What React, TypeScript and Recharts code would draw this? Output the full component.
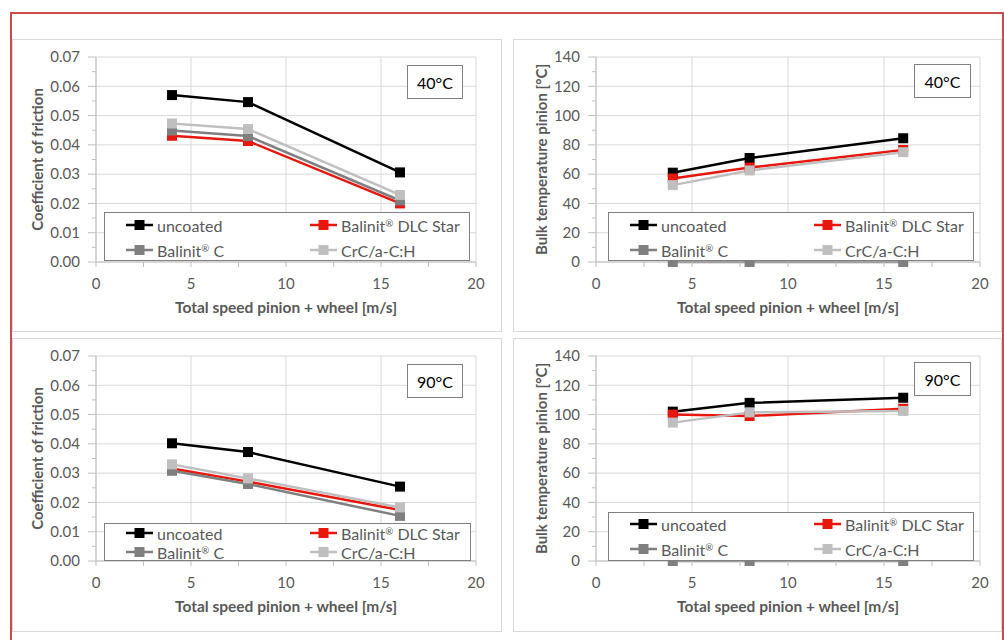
import React from 'react';
import { LineChart, Line, XAxis, YAxis, CartesianGrid } from 'recharts';

// total speed pinion + wheel [m/s]
const speeds = [4, 8, 16];

const seriesNames = ['uncoated', 'Balinit® DLC Star', 'Balinit® C', 'CrC/a-C:H'];
const seriesColors = ['#000000', '#e8170d', '#7f7f7f', '#bfbfbf'];

// coefficient of friction, 40°C
const cof40Uncoated = [0.057, 0.0546, 0.0306];
const cof40DlcStar = [0.0431, 0.0413, 0.02];
const cof40BalinitC = [0.0449, 0.043, 0.021];
const cof40Crc = [0.0473, 0.0454, 0.0229];

// bulk temperature pinion, 40°C
const temp40Uncoated = [61, 71, 84.5];
const temp40DlcStar = [57, 64.5, 76.5];
const temp40BalinitC = [0, 0, 0];
const temp40Crc = [52.5, 62.5, 75];

// coefficient of friction, 90°C
const cof90Uncoated = [0.0402, 0.0372, 0.0254];
const cof90DlcStar = [0.0316, 0.0271, 0.0174];
const cof90BalinitC = [0.0308, 0.0263, 0.0154];
const cof90Crc = [0.033, 0.0282, 0.0183];

// bulk temperature pinion, 90°C
const temp90Uncoated = [102, 108, 111.5];
const temp90DlcStar = [100, 99, 104];
const temp90BalinitC = [0, 0, 0];
const temp90Crc = [94.5, 101.5, 102.5];

const speedMajorTicks = [0, 5, 10, 15, 20];
const speedMinorTicks = [2.5, 7.5, 12.5, 17.5];
const cofMajorTicks = [0, 0.01, 0.02, 0.03, 0.04, 0.05, 0.06, 0.07];
const cofMinorTicks = [0.005, 0.015, 0.025, 0.035, 0.045, 0.055, 0.065];
const tempMajorTicks = [0, 20, 40, 60, 80, 100, 120, 140];
const tempMinorTicks = [10, 30, 50, 70, 90, 110, 130];

const FONT = 'Lato, "Open Sans", sans-serif';
const TEXT = '#595959';
const AXIS = '#bfbfbf';
const GRID = '#d9d9d9';

const buildRows = (series: number[][]) =>
  speeds.map((s, i) => {
    const row: any = { speed: s };
    series.forEach((vals, k) => {
      row['s' + k] = vals[i];
    });
    return row;
  });

const squareDot = (color: string) => (props: any) => {
  const { cx, cy, index } = props;
  if (cx == null || cy == null) return <g key={`e-${index}`} />;
  return <rect key={`d-${index}`} x={cx - 5} y={cy - 5} width={10} height={10} fill={color} />;
};

const makeYTick = (major: number[], fmt: (v: number) => string) => (props: any) => {
  const { x, y, payload } = props;
  const isMajor = major.includes(payload.value);
  const ax = x + 16;
  return (
    <g>
      <line x1={ax - (isMajor ? 8 : 4)} x2={ax} y1={y} y2={y} stroke={AXIS} />
      {isMajor && (
        <text x={x} y={y} dy="0.35em" textAnchor="end" fill={TEXT} fontSize={15} fontFamily={FONT}>
          {fmt(payload.value)}
        </text>
      )}
    </g>
  );
};

const XTick = (props: any) => {
  const { x, y, payload } = props;
  const isMajor = speedMajorTicks.includes(payload.value);
  const ay = y - 16;
  return (
    <g>
      <line x1={x} x2={x} y1={ay} y2={ay + 5} stroke={AXIS} />
      {isMajor && (
        <text x={x} y={y} dy="0.71em" textAnchor="middle" fill={TEXT} fontSize={15} fontFamily={FONT}>
          {payload.value}
        </text>
      )}
    </g>
  );
};

// small raised ® like the original legend
const legendText = (name: string) => {
  const parts = name.split('®');
  if (parts.length === 1) return name;
  return (
    <>
      {parts[0]}
      <span style={{ fontSize: '0.6em', verticalAlign: '0.55em' }}>®</span>
      {parts[1]}
    </>
  );
};

const LegendBox = ({ box }: any) => (
  <div
    style={{
      position: 'absolute',
      left: box.left,
      top: box.top,
      width: box.width,
      height: box.height,
      border: '1px solid #808080',
      background: '#fff',
      boxSizing: 'border-box',
    }}
  >
    {seriesNames.map((name, i) => {
      const col = i % 2;
      const row = Math.floor(i / 2);
      return (
        <div
          key={name}
          style={{
            position: 'absolute',
            left: col === 0 ? 21 : 205,
            top: box.rows[row] - 10,
            height: 20,
            display: 'flex',
            alignItems: 'center',
            whiteSpace: 'nowrap',
          }}
        >
          <svg width={30} height={12} style={{ display: 'block' }}>
            <line x1={0} x2={27} y1={6} y2={6} stroke={seriesColors[i]} strokeWidth={2.5} />
            <rect x={8.5} y={1} width={10} height={10} fill={seriesColors[i]} />
          </svg>
          <span style={{ fontSize: 16, color: TEXT, fontFamily: FONT, marginLeft: 1 }}>{legendText(name)}</span>
        </div>
      );
    })}
  </div>
);

const Panel = ({ cfg }: any) => {
  const data = buildRows(cfg.series);
  const yTicks = [...cfg.yMajor, ...cfg.yMinor].sort((a: number, b: number) => a - b);
  const xTicks = [...speedMajorTicks, ...speedMinorTicks].sort((a, b) => a - b);
  return (
    <div
      style={{
        position: 'absolute',
        left: cfg.left,
        top: cfg.top,
        width: cfg.width,
        height: cfg.height,
        background: '#fff',
        outline: '1px solid #d9d9d9',
        outlineOffset: -1,
      }}
    >
      <LineChart width={cfg.width} height={cfg.height} data={data} margin={cfg.margin}>
        <CartesianGrid
          stroke={GRID}
          horizontalValues={cfg.yMajor}
          verticalValues={speedMajorTicks}
        />
        <XAxis
          type="number"
          dataKey="speed"
          domain={[0, 20]}
          ticks={xTicks}
          interval={0}
          height={30}
          tickSize={5}
          tickMargin={11}
          tickLine={false}
          axisLine={{ stroke: AXIS }}
          tick={XTick}
          label={{
            value: 'Total speed pinion + wheel [m/s]',
            position: 'bottom',
            offset: 10,
            fill: TEXT,
            fontSize: 15.5,
            fontWeight: 700,
            fontFamily: FONT,
          }}
        />
        <YAxis
          type="number"
          domain={[0, cfg.yMajor[cfg.yMajor.length - 1]]}
          ticks={yTicks}
          interval={0}
          width={cfg.yWidth}
          tickSize={8}
          tickMargin={8}
          tickLine={false}
          axisLine={{ stroke: AXIS }}
          tick={makeYTick(cfg.yMajor, cfg.yFmt)}
          label={{
            value: cfg.yTitle,
            angle: -90,
            position: 'insideLeft',
            offset: cfg.yTitleOffset,
            fill: TEXT,
            fontSize: 15,
            fontWeight: 700,
            fontFamily: FONT,
            style: { textAnchor: 'middle' },
          }}
        />
        {seriesNames.map((name, k) => (
          <Line
            key={name}
            name={name}
            type="linear"
            dataKey={'s' + k}
            stroke={seriesColors[k]}
            strokeWidth={2.5}
            dot={squareDot(seriesColors[k])}
            activeDot={false}
            isAnimationActive={false}
          />
        ))}
      </LineChart>
      <LegendBox box={cfg.legend} />
      <div
        style={{
          position: 'absolute',
          left: cfg.tempBox.left,
          top: cfg.tempBox.top,
          width: cfg.tempBox.width,
          height: cfg.tempBox.height,
          border: '1.5px solid #808080',
          boxSizing: 'border-box',
          background: '#fff',
          display: 'flex',
          alignItems: 'center',
          justifyContent: 'center',
          fontSize: 16,
          color: '#000',
          fontFamily: FONT,
        }}
      >
        {cfg.tempLabel}
      </div>
    </div>
  );
};

const cofFmt = (v: number) => v.toFixed(2);
const tempFmt = (v: number) => String(v);

const panels = [
  {
    left: 12, top: 39, width: 490, height: 293,
    margin: { top: 18, right: 26, left: 25, bottom: 40 },
    yWidth: 59, yTitleOffset: 1,
    yTitle: 'Coefficient of friction', yMajor: cofMajorTicks, yMinor: cofMinorTicks, yFmt: cofFmt,
    series: [cof40Uncoated, cof40DlcStar, cof40BalinitC, cof40Crc],
    legend: { left: 92, top: 173, width: 366, height: 49, rows: [12, 37] },
    tempBox: { left: 395, top: 26, width: 56, height: 34 }, tempLabel: '40°C',
  },
  {
    left: 513, top: 39, width: 489, height: 293,
    margin: { top: 18, right: 22, left: 25, bottom: 40 },
    yWidth: 58, yTitleOffset: 4,
    yTitle: 'Bulk temperature pinion [°C]', yMajor: tempMajorTicks, yMinor: tempMinorTicks, yFmt: tempFmt,
    series: [temp40Uncoated, temp40DlcStar, temp40BalinitC, temp40Crc],
    legend: { left: 95, top: 173, width: 366, height: 49, rows: [12, 37] },
    tempBox: { left: 401, top: 25, width: 57, height: 34 }, tempLabel: '40°C',
  },
  {
    left: 12, top: 338, width: 490, height: 294,
    margin: { top: 18, right: 26, left: 25, bottom: 41 },
    yWidth: 59, yTitleOffset: 1,
    yTitle: 'Coefficient of friction', yMajor: cofMajorTicks, yMinor: cofMinorTicks, yFmt: cofFmt,
    series: [cof90Uncoated, cof90DlcStar, cof90BalinitC, cof90Crc],
    legend: { left: 92, top: 185, width: 367, height: 38, rows: [9, 28] },
    tempBox: { left: 395, top: 26, width: 56, height: 34 }, tempLabel: '90°C',
  },
  {
    left: 513, top: 338, width: 489, height: 294,
    margin: { top: 18, right: 22, left: 25, bottom: 41 },
    yWidth: 58, yTitleOffset: 4,
    yTitle: 'Bulk temperature pinion [°C]', yMajor: tempMajorTicks, yMinor: tempMinorTicks, yFmt: tempFmt,
    series: [temp90Uncoated, temp90DlcStar, temp90BalinitC, temp90Crc],
    legend: { left: 95, top: 174, width: 366, height: 49, rows: [11, 36] },
    tempBox: { left: 401, top: 24, width: 57, height: 34 }, tempLabel: '90°C',
  },
];

export default function App() {
  return (
    <div
      style={{
        position: 'absolute',
        left: 0,
        top: 0,
        width: 1004,
        height: 640,
        overflow: 'hidden',
        background: '#fff',
        fontFamily: FONT,
      }}
    >
      {panels.map((cfg, i) => (
        <Panel key={i} cfg={cfg} />
      ))}
      <div
        style={{
          position: 'absolute',
          left: 10,
          top: 12,
          width: 994,
          height: 660,
          border: '2px solid #cc4b4b',
          boxSizing: 'border-box',
          pointerEvents: 'none',
        }}
      />
    </div>
  );
}
